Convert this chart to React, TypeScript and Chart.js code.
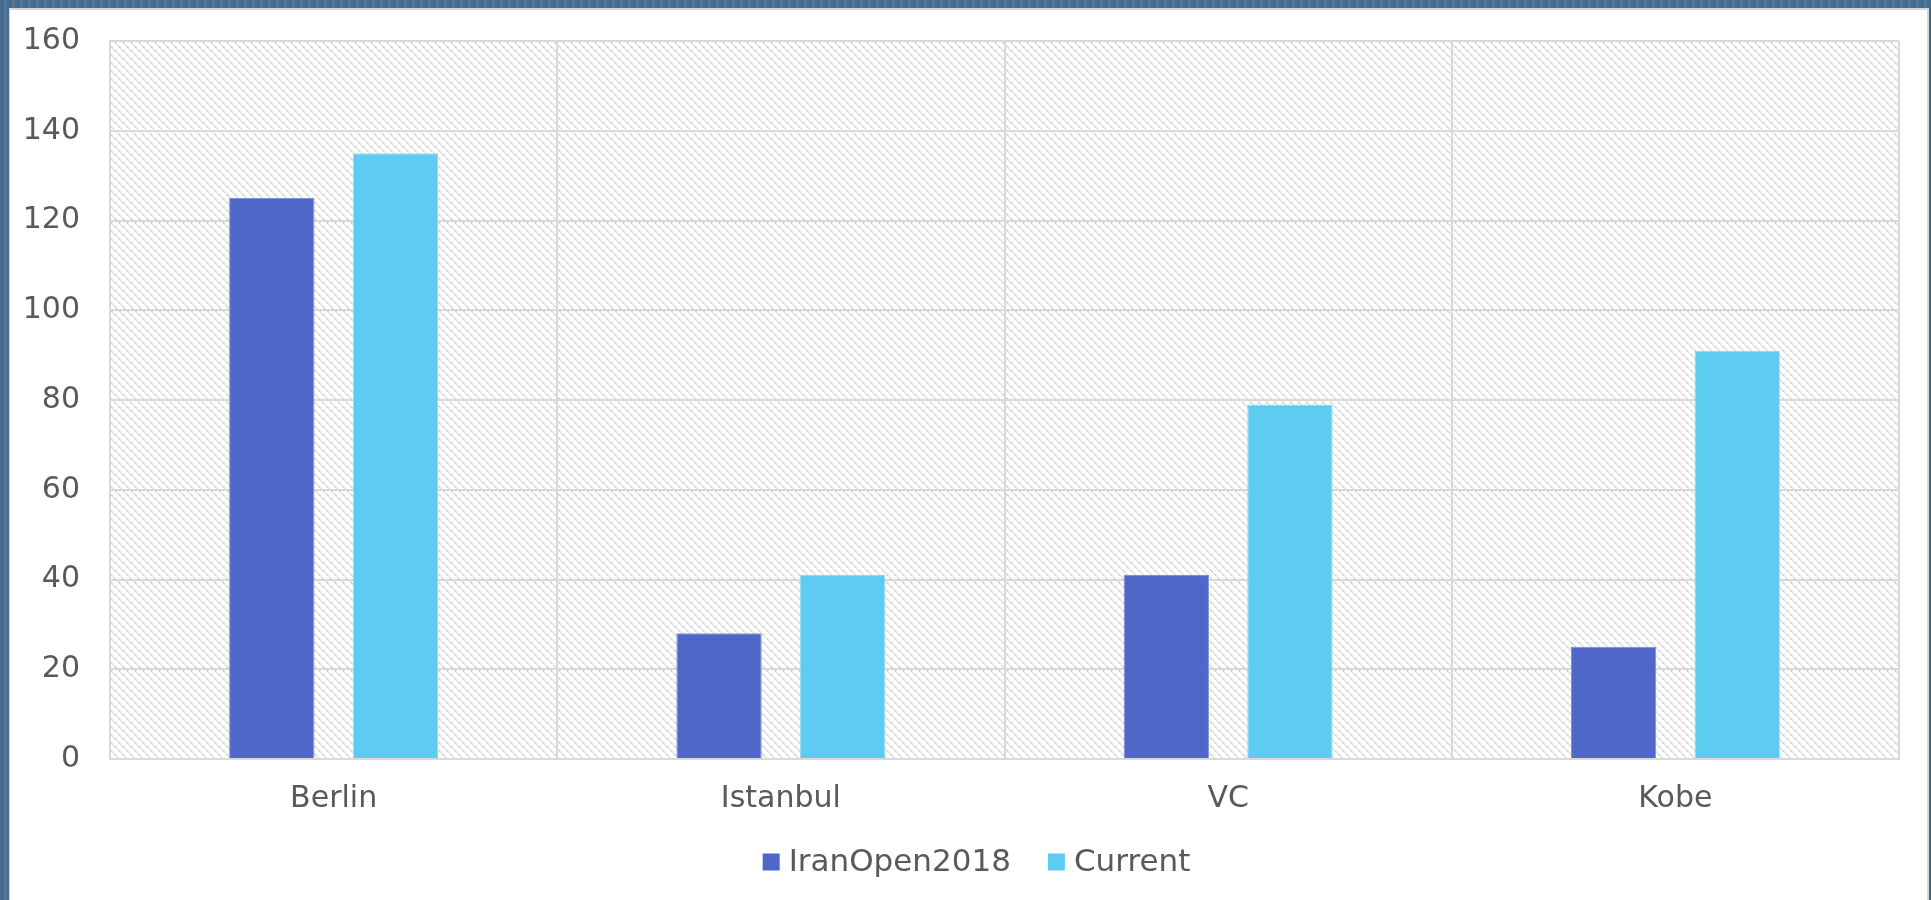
import React, { useEffect, useRef } from "react";
import { Chart, registerables } from "chart.js";

Chart.register(...registerables);

const categories = ["Berlin", "Istanbul", "VC", "Kobe"];
const iranOpen2018 = [125, 28, 41, 25];
const current = [135, 41, 79, 91];
const yTicks = [0, 20, 40, 60, 80, 100, 120, 140, 160];

const FONT = "'DejaVu Sans', sans-serif";
const TEXT = "#595959";
const GRID = "#d9d9d9";

function makeHatch(): CanvasPattern | string {
  const c = document.createElement("canvas");
  c.width = 8;
  c.height = 8;
  const g = c.getContext("2d");
  if (!g) return "#ffffff";
  g.fillStyle = "#ffffff";
  g.fillRect(0, 0, 8, 8);
  for (let i = 0; i < 8; i++) {
    const dark = Math.floor(i / 2) % 2 === 0;
    g.fillStyle = dark ? "#d3d3d3" : "#e6e6e6";
    g.fillRect(i, i, 1, 1);
    g.fillRect((i + 1) % 8, i, 1, 1);
  }
  const p = g.createPattern(c, "repeat");
  return p || "#ffffff";
}

export default function App() {
  const ref = useRef<HTMLCanvasElement | null>(null);

  useEffect(() => {
    const canvas = ref.current;
    if (!canvas) return;
    const hatch = makeHatch();
    const hatchPlugin = {
      id: "hatchBg",
      beforeDraw(chart: any) {
        const { ctx, chartArea } = chart;
        if (!chartArea) return;
        ctx.save();
        ctx.fillStyle = hatch;
        ctx.fillRect(
          chartArea.left,
          chartArea.top,
          chartArea.right - chartArea.left,
          chartArea.bottom - chartArea.top
        );
        ctx.restore();
      },
    };
    const legendPlugin = {
      id: "bottomLegend",
      afterDraw(chart: any) {
        const { ctx } = chart;
        const size = 31;
        const box = 17;
        const gapBoxText = 9;
        const gapItems = 37;
        ctx.save();
        ctx.font = `${size}px ${FONT}`;
        const items = chart.data.datasets.map((d: any) => ({
          text: String(d.label),
          color: d.backgroundColor,
          w: ctx.measureText(String(d.label)).width,
        }));
        let total = 0;
        items.forEach((it: any, i: number) => {
          total += box + gapBoxText + it.w + (i > 0 ? gapItems : 0);
        });
        const cx = chart.width / 2 + 8;
        const cy = 852;
        let x = cx - total / 2;
        ctx.textBaseline = "middle";
        ctx.textAlign = "left";
        items.forEach((it: any) => {
          ctx.fillStyle = it.color;
          ctx.fillRect(x, cy - box / 2, box, box);
          x += box + gapBoxText;
          ctx.fillStyle = TEXT;
          ctx.fillText(it.text, x, cy + 1);
          x += it.w + gapItems;
        });
        ctx.restore();
      },
    };
    const chart = new Chart(canvas, {
      type: "bar",
      data: {
        labels: categories,
        datasets: [
          {
            label: "IranOpen2018",
            data: iranOpen2018,
            backgroundColor: "#4e67c8",
            borderColor: "#7d8fd6",
            borderWidth: 1,
            categoryPercentage: 0.553,
            barPercentage: 0.69,
          },
          {
            label: "Current",
            data: current,
            backgroundColor: "#5ecbf1",
            borderColor: "#8adaf5",
            borderWidth: 1,
            categoryPercentage: 0.553,
            barPercentage: 0.69,
          },
        ],
      },
      options: {
        responsive: false,
        animation: false,
        devicePixelRatio: 1,
        layout: { padding: { top: 31, right: 28, left: 0, bottom: 91 } },
        plugins: {
          tooltip: { enabled: false },
          legend: { display: false },
        },
        scales: {
          x: {
            grid: { color: GRID, lineWidth: 2, drawTicks: false, offset: true },
            border: { color: GRID, width: 2 },
            ticks: {
              color: TEXT,
              font: { family: FONT, size: 30 },
              padding: 22,
            },
            afterFit(scale: any) {
              scale.height = 52;
            },
          },
          y: {
            min: 0,
            max: 160,
            afterBuildTicks(scale: any) {
              scale.ticks = yTicks.map((v) => ({ value: v }));
            },
            grid: { color: GRID, lineWidth: 2, drawTicks: false },
            border: { color: GRID, width: 2 },
            ticks: {
              color: TEXT,
              font: { family: FONT, size: 30 },
              padding: 30,
            },
            afterFit(scale: any) {
              scale.width = 100;
              scale.paddingTop = 0;
              scale.paddingBottom = 0;
            },
          },
        },
      },
      plugins: [hatchPlugin, legendPlugin],
    });
    return () => chart.destroy();
  }, []);

  return (
    <div
      style={{
        position: "fixed",
        left: 0,
        top: 0,
        width: 1931,
        height: 900,
        background:
          "repeating-linear-gradient(90deg, #4a6f90 0px, #3f6584 3px, #557b9b 5px, #46698a 8px)",
        overflow: "hidden",
      }}
    >
      <div
        style={{
          position: "absolute",
          left: 9,
          top: 8,
          width: 1920,
          height: 892,
          background: "#ffffff",
          borderTop: "2px solid #d6d6d6",
          borderLeft: "1px solid #d6d6d6",
          borderRight: "2px solid #d6d6d6",
          boxSizing: "border-box",
        }}
      >
        <canvas
          ref={ref}
          width={1917}
          height={892}
          style={{ position: "absolute", left: 0, top: 0, width: 1917, height: 892 }}
        />
      </div>
    </div>
  );
}
